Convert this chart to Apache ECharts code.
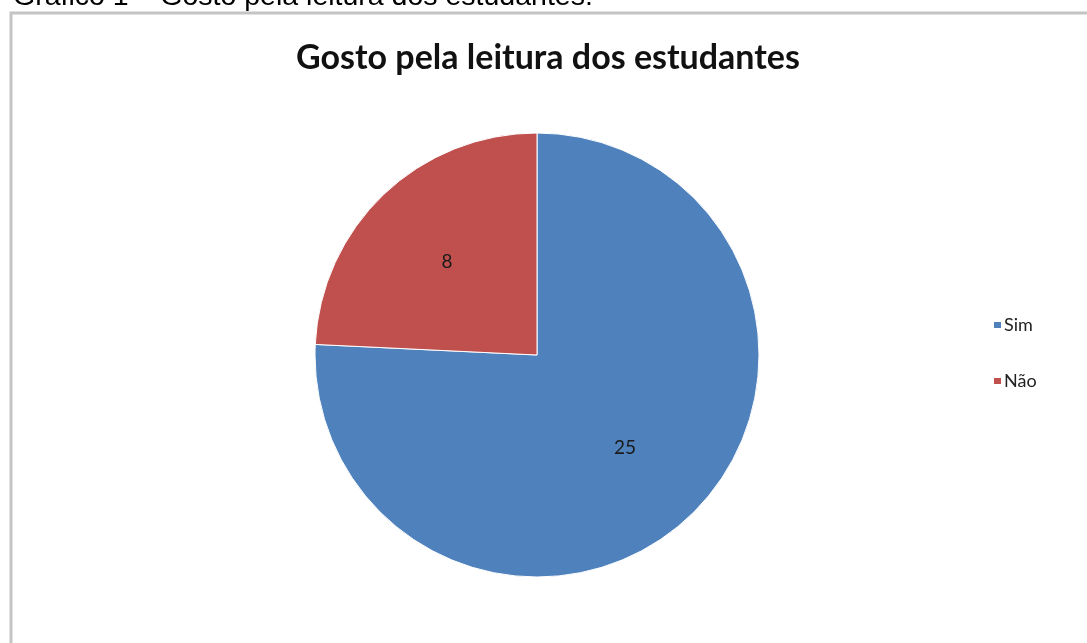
<!DOCTYPE html>
<html>
<head>
<meta charset="utf-8">
<script src="https://cdn.jsdelivr.net/npm/echarts@6/dist/echarts.min.js"></script>
<style>
html,body{margin:0;padding:0;background:#fff;}
#chart{width:1087px;height:643px;}
</style>
</head>
<body>
<div id="chart"></div>
<script>
const categories = ['Sim', 'Não'];
const values = [25, 8];
const colors = ['#4F81BD', '#C0504D'];
const chartTitle = 'Gosto pela leitura dos estudantes';
const captionText = 'Gráfico 1 – Gosto pela leitura dos estudantes.';

const data = categories.map((name, i) => ({ name, value: values[i], itemStyle: { color: colors[i] } }));

const chart = echarts.init(document.getElementById('chart'));
chart.setOption({
  backgroundColor: '#ffffff',
  animation: false,
  title: {
    text: chartTitle,
    left: 543,
    textAlign: 'center',
    top: 36,
    textStyle: { fontFamily: 'Lato', fontWeight: 'bold', fontSize: 34, color: '#111' }
  },
  legend: {
    orient: 'vertical',
    left: 987,
    top: 311,
    itemWidth: 9,
    itemHeight: 8,
    itemGap: 38,
    icon: 'rect',
    data: categories,
    textStyle: { fontFamily: 'Lato', fontSize: 18, color: '#222', padding: [0, 0, 0, -3] }
  },
  graphic: [
    {
      type: 'rect',
      shape: { x: 11, y: 13, width: 1200, height: 800 },
      style: { fill: 'none', stroke: '#c4c4c4', lineWidth: 3 },
      z: 1
    },
    {
      type: 'text',
      left: 13,
      top: -17,
      style: { text: captionText, font: '28.5px "Liberation Sans", Arial, sans-serif', fill: '#000' }
    }
  ],
  series: [
    {
      type: 'pie',
      center: [537, 355],
      radius: [0, 222],
      startAngle: 90,
      clockwise: true,
      silent: true,
      label: { show: false },
      labelLine: { show: false },
      itemStyle: { borderColor: '#ffffff', borderWidth: 1 },
      data: data
    },
    {
      type: 'pie',
      center: [536, 355],
      radius: [30, 222],
      startAngle: 90,
      clockwise: true,
      silent: true,
      itemStyle: { color: 'rgba(0,0,0,0)', borderWidth: 0 },
      label: { show: true, position: 'inside', fontFamily: 'Lato', fontSize: 19, color: '#1a1a1a', formatter: '{c}' },
      labelLine: { show: false },
      data: categories.map((name, i) => ({ name, value: values[i] }))
    }
  ]
});
</script>
</body>
</html>
